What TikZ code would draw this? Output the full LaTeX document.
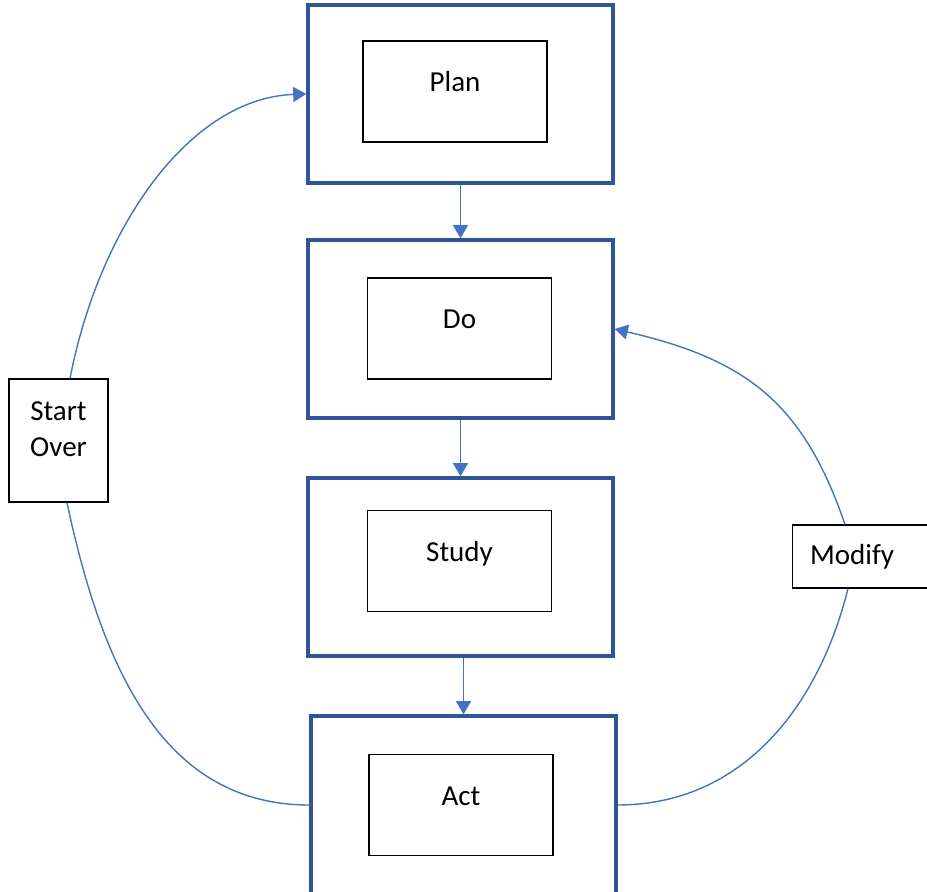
\documentclass[tikz,border=0pt]{standalone}
\usepackage{fontspec}
\setmainfont{Carlito}
\usepackage{tikz}
\usetikzlibrary{arrows.meta}
\usetikzlibrary{positioning}

\definecolor{boxblue}{HTML}{2F5597}
\definecolor{lineblue}{HTML}{4472C4}

\begin{document}
\begin{tikzpicture}[x=0.02cm, y=-0.02cm,
        outer/.style={rectangle, draw=boxblue, line width=1.9pt, minimum width=6.1cm, minimum height=3.56cm},
        inner/.style={rectangle, draw=black, line width=0.7pt, minimum width=3.68cm, minimum height=2.02cm, inner sep=0pt, text height=11pt, text depth=11pt},
        side/.style={rectangle, draw=black, line width=0.7pt},
        link/.style={draw=lineblue, line width=0.8pt},
        >={Triangle[width=8.5pt, length=7.5pt]},
        font=\fontsize{16.5}{21}\selectfont
      ]
        \useasboundingbox (0,0) rectangle (927,892);
        \clip (0,0) rectangle (927,892);

        \node[outer]  (plan)   at (460.5, 94)    {};
        \node[inner]  (plan1)  at (455, 91.5)    {Plan};
        \node[outer]  (do)     at (460.5, 329)   {};
        \node[inner]  (do1)    at (459.5, 328.5) {Do};
        \node[outer]  (study)  at (460.5, 567)   {};
        \node[inner]  (study1) at (459.5, 561)   {Study};
        \node[outer]  (act)    at (463.5, 805)   {};
        \node[inner]  (act1)   at (461, 805)     {Act};

        \node[side, minimum width=1.98cm, minimum height=2.46cm, align=center] (start) at (58.5, 440.5) {Start\\Over\\[-8pt]\mbox{}};
        \node[side, anchor=west, minimum width=3cm, minimum height=1.26cm, inner xsep=5.5pt, text width=2.3cm, align=left] (modify) at (792, 556.5) {Modify};

        \coordinate (starttop)  at ([xshift=0.23cm]start.north);
        \coordinate (startbot)  at ([xshift=0.17cm]start.south);
        \coordinate (modtop)    at ([xshift=1.06cm]modify.north west);
        \coordinate (modbot)    at ([xshift=1.12cm]modify.south west);

        \draw[link, ->]  (plan.south) -- (do.north);
        \draw[link, ->]  (do.south) -- (study.north);
        \draw[link, ->]  (act.north |- study.south) -- (act.north);

        \draw[link]      (act.west) to[out=180, in=-78, out looseness=0.95, in looseness=1.15] (startbot);
        \draw[link, ->]  (starttop) to[out=79, in=182, out looseness=1.08, in looseness=0.8] (plan.west);
        \draw[link]      (act.east) to[out=0, in=-104] (modbot);
        \draw[link, ->]  (modtop) to[out=109, in=-13, out looseness=1.08, in looseness=1.15] (do.east);
      \end{tikzpicture}
\end{document}
